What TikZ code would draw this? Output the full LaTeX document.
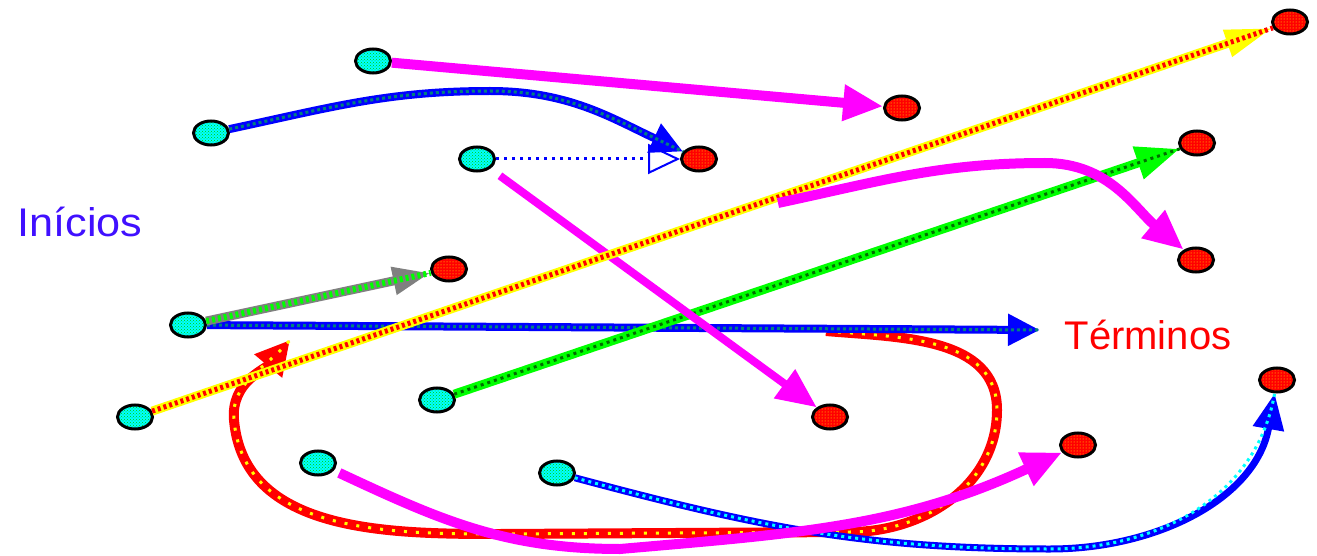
\documentclass[tikz,border=0pt]{standalone}
\usepackage{fontspec}
\newfontfamily\lab{Liberation Sans}
\usetikzlibrary{arrows.meta,shapes.geometric,patterns}
\definecolor{mag}{RGB}{255,0,255}
\definecolor{bluedk}{RGB}{0,0,255}
\definecolor{tealc}{RGB}{0,128,128}
\definecolor{grn}{RGB}{0,255,0}
\definecolor{grndk}{RGB}{0,110,0}
\definecolor{violet2}{RGB}{64,16,255}
\definecolor{cyanc}{RGB}{0,255,255}
\definecolor{yel}{RGB}{255,255,0}
\tikzset{
  startdot/.style={ellipse, draw=black, line width=3pt, minimum width=35pt, minimum height=24pt, inner sep=0pt,
    preaction={fill=cyanc}, pattern=crosshatch dots, pattern color=green!80!black},
  enddot/.style={ellipse, draw=black, line width=3pt, minimum width=35pt, minimum height=24pt, inner sep=0pt,
    preaction={fill=red}, pattern=dots, pattern color=yel},
  magline/.style={draw=mag, line width=10pt, -{Triangle[length=40pt,width=34pt]}},
  blueline/.style={draw=bluedk, line width=8pt, -{Triangle[length=32pt,width=30pt]},
    postaction={draw=tealc, line width=3pt, dash pattern=on 3pt off 3pt, arrows=-}},
  grayline/.style={draw=gray, line width=9pt, -{Triangle[length=38pt,width=26pt]},
    postaction={draw=grn, line width=6pt, dash pattern=on 3pt off 3pt, arrows=-}},
  yelline/.style={draw=yel, line width=9pt, -{Triangle[length=48pt,width=26pt]},
    postaction={draw=red, line width=5pt, dash pattern=on 3pt off 3pt, arrows=-}},
  grnline/.style={draw=grn, line width=9pt, -{Triangle[length=44pt,width=32pt]},
    postaction={draw=grndk, line width=3pt, dash pattern=on 3pt off 4pt, arrows=-}},
  redline/.style={draw=red, line width=10pt, -{Triangle[length=34pt,width=34pt]},
    postaction={draw=yel, line width=3pt, dash pattern=on 3pt off 9pt, arrows=-}},
  cyanline/.style={draw=bluedk, line width=7pt, -{Triangle[length=36pt,width=30pt]},
    postaction={draw=cyanc, line width=3pt, dash pattern=on 3pt off 4pt, arrows=-}},
  dotline/.style={draw=bluedk, line width=3pt, dash pattern=on 3pt off 5pt, -{Triangle[open,length=32pt,width=30pt,line width=2pt]}},
  labtext/.style={font=\lab\fontsize{40}{40}\selectfont, inner sep=0pt}
}
\begin{document}
\begin{tikzpicture}[x=1pt,y=-1pt]
\useasboundingbox[fill=white] (0,0) rectangle (1317,556);

% texts
\node[labtext, text=violet2, xscale=1.08] (ini) at (80,222) {Inícios};
\node[labtext, text=red] (ter) at (1148,335) {Términos};

% start nodes
\node[startdot] (S1) at (373,61) {};
\node[startdot] (S2) at (211,133) {};
\node[startdot] (S3) at (477,159) {};
\node[startdot] (S4) at (188,325) {};
\node[startdot] (S5) at (135,417) {};
\node[startdot] (S6) at (437,400) {};
\node[startdot] (S7) at (318,463) {};
\node[startdot] (S8) at (557,473) {};

% end nodes
\node[enddot] (E1) at (1290,22) {};
\node[enddot] (E2) at (902,108) {};
\node[enddot] (E3) at (699,159) {};
\node[enddot] (E4) at (1197,143) {};
\node[enddot] (E5) at (1196,260) {};
\node[enddot] (E6) at (449,269) {};
\node[enddot] (E7) at (830,417) {};
\node[enddot] (E8) at (1078,445) {};
\node[enddot] (E9) at (1277,380) {};

% free coordinates
\coordinate (B6) at (1040,330);
\coordinate (M9) at (778,203);
\coordinate (R0) at (826,331);
\coordinate (R1) at (290,340);

% connectors
\draw[redline] (R0) to[out=-5,in=90] (997,410) to[out=-90,in=0] (850,532) -- (500,534)
   to[out=180,in=-85] (234,420) to[out=95,in=-130] (R1);
\draw[cyanline] (S8) to[out=-15,in=180] (1050,549) to[out=0,in=-100] (E9);
\draw[magline, shorten <=6pt] (S7) to[out=-25,in=180] (620,549) to[out=5,in=-155] (E8);
\draw[blueline] (S4) -- (B6);
\draw[grayline] (S4) -- (E6);
\draw[grnline] (S6) -- (E4);
\draw[magline, line width=8pt, shorten <=12pt] (S3) -- (E7);
\draw[yelline] (S5) -- (E1);
\draw[magline] (M9) to[out=12,in=180] (1045,163) to[out=0,in=140] (E5);
\draw[dotline] (S3) -- (E3);
\draw[blueline] (S2) to[out=12,in=180] (490,91) to[out=0,in=155] (E3);
\draw[magline] (S1) -- (E2);
\end{tikzpicture}
\end{document}
